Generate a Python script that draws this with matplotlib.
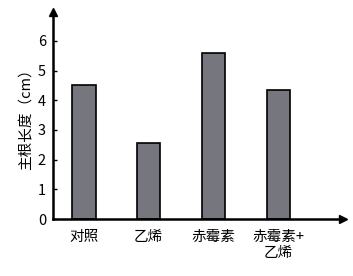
import matplotlib
matplotlib.use("Agg")
import matplotlib.pyplot as plt

plt.rcParams['font.family'] = ['Noto Sans CJK SC', 'DejaVu Sans']

categories = ["对照", "乙烯", "赤霉素", "赤霉素+\n乙烯"]
values = [4.5, 2.55, 5.6, 4.35]
yticks = [0, 1, 2, 3, 4, 5, 6]

fig = plt.figure(figsize=(3.53, 2.76), dpi=100)
ax = fig.add_axes([0.150, 0.2065, 0.822, 0.75])

x = list(range(len(categories)))
ax.bar(x, values, width=0.36, color="#76767e", edgecolor="black", linewidth=1.2, zorder=2)

ax.set_xlim(-0.48, 4.0)
ax.set_ylim(0, 6.97)
ax.set_yticks(yticks)
ax.set_yticklabels([str(t) for t in yticks], fontsize=10.5)
ax.set_xticks(x)
ax.set_xticklabels(categories, fontsize=10.5, linespacing=1.2)
ax.tick_params(axis='x', length=0, pad=8)
ax.tick_params(axis='y', direction='in', length=3, width=1, pad=5)

for s in ['top', 'right']:
    ax.spines[s].set_visible(False)
for s in ['left', 'bottom']:
    ax.spines[s].set_linewidth(1.8)

ax.plot(0, 1, marker='^', color='black', markersize=6, transform=ax.transAxes, clip_on=False)
ax.plot(1, 0, marker='>', color='black', markersize=6, transform=ax.transAxes, clip_on=False)

ax.set_ylabel("主根长度（cm）", fontsize=10.5, labelpad=3)

fig.savefig("out.png", dpi=100)
